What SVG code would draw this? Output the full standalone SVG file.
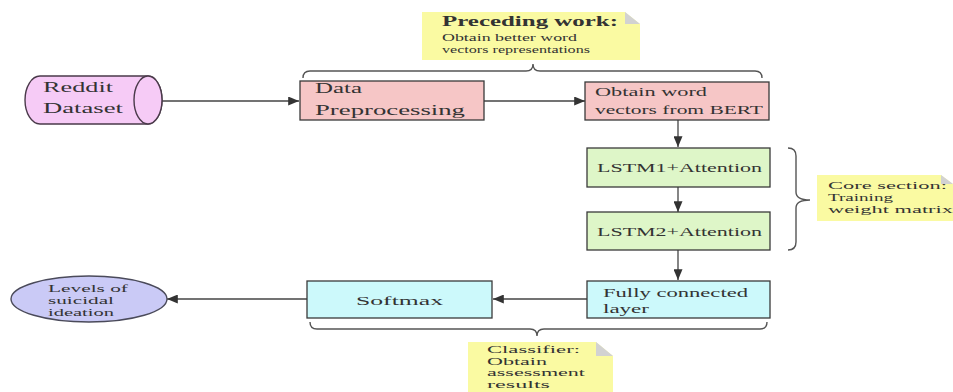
<svg xmlns="http://www.w3.org/2000/svg" width="953" height="392" viewBox="0 0 953 392">
<style>
  .box { stroke: #3a3a3a; stroke-width: 1.3; }
  .pink { fill: #f6c6c6; }
  .green { fill: #def6c8; }
  .cyan { fill: #ccf9fb; }
  .t { font-family: "Liberation Serif", "DejaVu Serif", serif; fill: #333; }
  .big { font-size: 14px; }
  .mid { font-size: 12px; }
  .snote { font-size: 10.5px; }
  .small { font-size: 10px; }
  .edge { stroke: #444; stroke-width: 1.3; fill: none; }
  .brace { stroke: #555; stroke-width: 1.4; fill: none; }
  .note { fill: #fafaa2; }
  .fold { fill: #d2d2d2; }
</style>
<defs>
  <marker id="ah" viewBox="0 0 12 10" refX="12" refY="5" markerWidth="12" markerHeight="9" markerUnits="userSpaceOnUse" orient="auto">
    <path d="M0,0 L12,5 L0,10 z" fill="#333"/>
  </marker>
</defs>
<rect width="953" height="392" fill="#ffffff"/>

<g id="connectors">
  <line class="edge" x1="162" y1="101" x2="299" y2="101" marker-end="url(#ah)"/>
  <line class="edge" x1="484" y1="101" x2="585" y2="101" marker-end="url(#ah)"/>
  <line class="edge" x1="678" y1="120" x2="678" y2="147" marker-end="url(#ah)"/>
  <line class="edge" x1="678" y1="187" x2="678" y2="212" marker-end="url(#ah)"/>
  <line class="edge" x1="678" y1="250" x2="678" y2="280" marker-end="url(#ah)"/>
  <line class="edge" x1="587" y1="299" x2="493" y2="299" marker-end="url(#ah)"/>
  <line class="edge" x1="307" y1="299" x2="167" y2="299" marker-end="url(#ah)"/>
</g>

<g id="braces">
  <path class="brace" d="M303,78 Q303,71 310,71 L526,71 Q533,71 533,64 Q533,71 540,71 L755,71 Q762,71 762,78"/>
  <path class="brace" d="M310,322 Q310,329 317,329 L530,329 Q537,329 537,336 Q537,329 544,329 L760,329 Q767,329 767,322"/>
  <path class="brace" d="M788,148 Q796,148 796,156 L796,192 Q796,200 810,200 Q796,200 796,208 L796,242 Q796,250 788,250"/>
</g>

<g id="reddit">
  <path d="M40,76 L148,76 A14,24 0 0 1 148,124 L40,124 A15,24 0 0 1 40,76 z" fill="#f6cbf6" stroke="#4a3a4a" stroke-width="1.4"/>
  <ellipse cx="148" cy="100" rx="14" ry="24" fill="#f6cbf6" stroke="#4a3a4a" stroke-width="1.4"/>
  <text class="t big" x="43" y="92" textLength="70" lengthAdjust="spacingAndGlyphs">Reddit</text>
  <text class="t big" x="43" y="113" textLength="80" lengthAdjust="spacingAndGlyphs">Dataset</text>
</g>

<g id="preprocessing">
  <rect class="box pink" x="300" y="81" width="184" height="39"/>
  <text class="t big" x="315" y="93" textLength="47" lengthAdjust="spacingAndGlyphs">Data</text>
  <text class="t big" x="315" y="115" textLength="150" lengthAdjust="spacingAndGlyphs">Preprocessing</text>
</g>

<g id="bert">
  <rect class="box pink" x="585" y="82" width="184" height="38"/>
  <text class="t mid" x="595" y="96" textLength="112" lengthAdjust="spacingAndGlyphs">Obtain word</text>
  <text class="t mid" x="595" y="114" textLength="168" lengthAdjust="spacingAndGlyphs">vectors from BERT</text>
</g>

<g id="lstm1">
  <rect class="box green" x="587" y="148" width="183" height="39"/>
  <text class="t mid" x="597" y="172" textLength="165" lengthAdjust="spacingAndGlyphs">LSTM1+Attention</text>
</g>

<g id="lstm2">
  <rect class="box green" x="587" y="212" width="183" height="38"/>
  <text class="t mid" x="597" y="236" textLength="165" lengthAdjust="spacingAndGlyphs">LSTM2+Attention</text>
</g>

<g id="fully-connected">
  <rect class="box cyan" x="587" y="281" width="183" height="37"/>
  <text class="t mid" x="603" y="297" textLength="145" lengthAdjust="spacingAndGlyphs">Fully connected</text>
  <text class="t mid" x="603" y="313" textLength="46" lengthAdjust="spacingAndGlyphs">layer</text>
</g>

<g id="softmax">
  <rect class="box cyan" x="307" y="281" width="185" height="37"/>
  <text class="t mid" x="356" y="305" textLength="87" lengthAdjust="spacingAndGlyphs">Softmax</text>
</g>

<g id="levels">
  <ellipse cx="89" cy="299" rx="78" ry="23" fill="#cacaf6" stroke="#4a4a5a" stroke-width="1.4"/>
  <text class="t snote" x="48" y="292" textLength="80" lengthAdjust="spacingAndGlyphs">Levels of</text>
  <text class="t snote" x="48" y="304" textLength="66" lengthAdjust="spacingAndGlyphs">suicidal</text>
  <text class="t snote" x="48" y="316" textLength="66" lengthAdjust="spacingAndGlyphs">ideation</text>
</g>

<g id="note-preceding">
  <path class="note" d="M422,12 L625,12 L640,24 L640,60 L422,60 z"/>
  <path class="fold" d="M625,12 L640,24 L625,24 z"/>
  <text class="t big" x="442" y="26" font-weight="bold" textLength="176" lengthAdjust="spacingAndGlyphs">Preceding work:</text>
  <text class="t small" x="442" y="41" textLength="135" lengthAdjust="spacingAndGlyphs">Obtain better word</text>
  <text class="t small" x="442" y="53" textLength="148" lengthAdjust="spacingAndGlyphs">vectors representations</text>
</g>

<g id="note-core">
  <path class="note" d="M817,175 L941,175 L953,184 L953,221 L817,221 z"/>
  <path class="fold" d="M941,175 L953,184 L941,184 z"/>
  <text class="t snote" x="828" y="189" textLength="119" lengthAdjust="spacingAndGlyphs">Core section:</text>
  <text class="t snote" x="828" y="201" textLength="65" lengthAdjust="spacingAndGlyphs">Training</text>
  <text class="t snote" x="828" y="213" textLength="125" lengthAdjust="spacingAndGlyphs">weight matrix</text>
</g>

<g id="note-classifier">
  <path class="note" d="M468,342 L596,342 L613,356 L613,392 L468,392 z"/>
  <path class="fold" d="M596,342 L613,356 L596,356 z"/>
  <text class="t snote" x="487" y="353" textLength="93" lengthAdjust="spacingAndGlyphs">Classifier:</text>
  <text class="t snote" x="487" y="364.5" textLength="60" lengthAdjust="spacingAndGlyphs">Obtain</text>
  <text class="t snote" x="487" y="376" textLength="98" lengthAdjust="spacingAndGlyphs">assessment</text>
  <text class="t snote" x="487" y="387.5" textLength="63" lengthAdjust="spacingAndGlyphs">results</text>
</g>
</svg>
